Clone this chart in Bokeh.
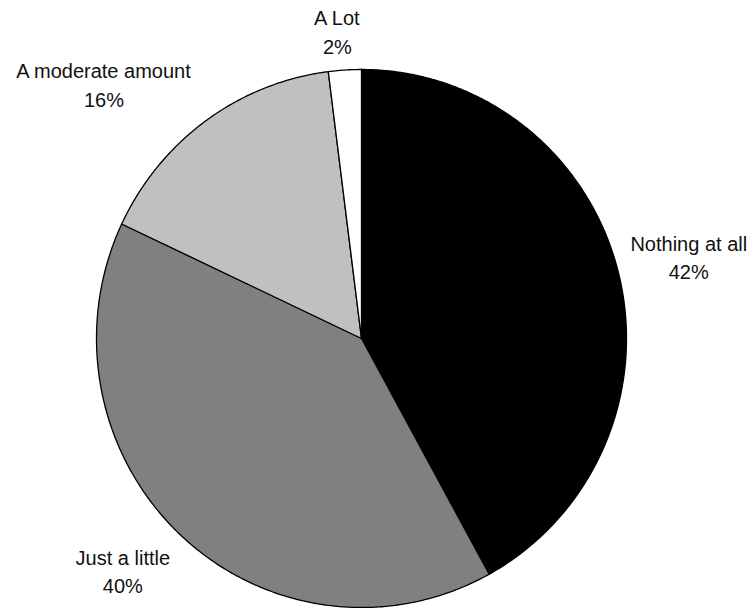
import math
from bokeh.plotting import figure
from bokeh.models import Range1d, ColumnDataSource
from bokeh.core.properties import value
from bokeh.embed import file_html
from bokeh.resources import INLINE

# ---- data ----
categories = ["Nothing at all", "Just a little", "A moderate amount", "A Lot"]
percents = [42, 40, 16, 2]
colors = ["#000000", "#808080", "#c0c0c0", "#ffffff"]

# ---- layout (pixel space) ----
W, H = 754, 608
CX, CY = 361, 338
RX, RY = 265, 269
# label placement: angle (deg clockwise from top) and distance from centre
label_angle = [76.2, 225.6, 314.5, 355.5]
label_dist = [337, 334, 361, 307]

p = figure(width=W, height=H, output_backend="svg", toolbar_location=None,
           x_range=Range1d(0, W), y_range=Range1d(H, 0), min_border=0)
p.axis.visible = False
p.grid.visible = False
p.outline_line_color = None
p.background_fill_color = "white"
p.border_fill_color = "white"

total = float(sum(percents))
xs, ys = [], []
start = 0.0
for v in percents:
    end = start + v / total * 360.0
    n = max(4, int((end - start) * 2))
    px, py = [CX], [CY]
    for i in range(n + 1):
        a = math.radians(start + (end - start) * i / n)
        px.append(CX + RX * math.sin(a))
        py.append(CY - RY * math.cos(a))
    xs.append(px)
    ys.append(py)
    start = end

src = ColumnDataSource(dict(xs=xs, ys=ys, color=colors))
p.patches("xs", "ys", source=src, fill_color="color", line_color="black",
          line_width=1.3, line_join="miter")

lx = [CX + d * math.sin(math.radians(a)) for a, d in zip(label_angle, label_dist)]
ly = [CY - d * math.cos(math.radians(a)) for a, d in zip(label_angle, label_dist)]
texts = [f"{c}\n{v}%" for c, v in zip(categories, percents)]
p.text(x=lx, y=ly, text=texts, text_align="center", text_baseline="middle",
       text_font=value("Liberation Sans"), text_font_size="20px",
       text_color="#111111", text_line_height=1.3)

open("out.html", "w").write(file_html(p, INLINE))
